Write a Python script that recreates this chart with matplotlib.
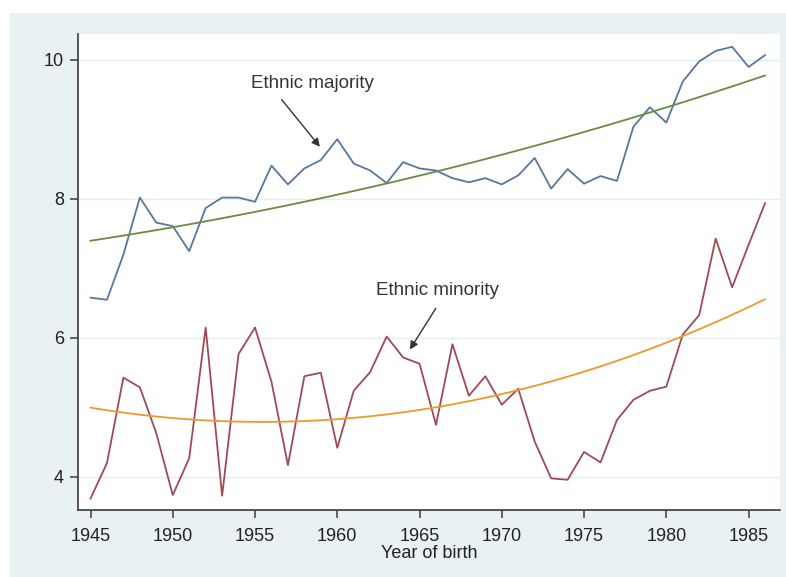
"""Years of schooling by year of birth, ethnic majority vs minority, with quadratic fits."""

import matplotlib.pyplot as plt
import numpy as np
from matplotlib.patches import Rectangle

plt.switch_backend("Agg")
plt.rcParams["font.family"] = ["Liberation Sans", "DejaVu Sans"]

years = np.arange(1945, 1987)

majority = [
    6.58, 6.55, 7.20, 8.02, 7.66, 7.61, 7.25, 7.87, 8.02, 8.02,
    7.96, 8.48, 8.21, 8.44, 8.56, 8.86, 8.51, 8.41, 8.23, 8.53,
    8.44, 8.41, 8.30, 8.24, 8.30, 8.21, 8.34, 8.59, 8.15, 8.43,
    8.22, 8.33, 8.26, 9.04, 9.32, 9.10, 9.69, 9.98, 10.13, 10.19,
    9.90, 10.07,
]
minority = [
    3.69, 4.20, 5.43, 5.29, 4.63, 3.74, 4.27, 6.15, 3.73, 5.77,
    6.15, 5.37, 4.17, 5.45, 5.50, 4.42, 5.24, 5.51, 6.02, 5.72,
    5.63, 4.75, 5.91, 5.17, 5.45, 5.04, 5.27, 4.51, 3.98, 3.96,
    4.36, 4.21, 4.82, 5.11, 5.24, 5.30, 6.05, 6.33, 7.43, 6.73,
    7.34, 7.94,
]

y_ticks = [4, 6, 8, 10]
x_ticks = list(range(1945, 1990, 5))

navy = "#56789f"
maroon = "#a04a55"
green = "#6b8a45"
orange = "#ec9a2c"
bg = "#e9f1f3"

fig = plt.figure(figsize=(7.86, 5.77), dpi=100, facecolor="white")
fig.add_artist(Rectangle((10 / 786, 0), 1, (577 - 13) / 577,
                         transform=fig.transFigure, facecolor=bg,
                         edgecolor="none", zorder=-10))
ax = fig.add_axes([78 / 786, (577 - 510) / 577, 702 / 786, 476 / 577])
ax.set_facecolor("white")

# Stata-style qfit: quadratic least squares on each series
grid = np.linspace(years[0], years[-1], 100)
fit_maj = np.polyval(np.polyfit(years, majority, 2), grid)
fit_min = np.polyval(np.polyfit(years, minority, 2), grid)

ax.plot(years, majority, color=navy, lw=1.3)
ax.plot(grid, fit_maj, color=green, lw=1.3)
ax.plot(years, minority, color=maroon, lw=1.3)
ax.plot(grid, fit_min, color=orange, lw=1.3)

ax.set_xlim(1944.24, 1986.91)
ax.set_ylim(3.525, 10.374)
ax.set_xticks(x_ticks)
ax.set_yticks(y_ticks)
ax.grid(axis="y", color="#e4eef0", lw=1.0)
ax.set_axisbelow(True)

for side in ("top", "right"):
    ax.spines[side].set_visible(False)
for side in ("left", "bottom"):
    ax.spines[side].set_color("#3a3a3a")
    ax.spines[side].set_linewidth(1.2)
ax.tick_params(direction="out", length=6, width=1.1, color="#3a3a3a",
               labelsize=13, labelcolor="#222222")
ax.tick_params(axis="x", pad=7)
ax.tick_params(axis="y", pad=4)

ax.set_xlabel("Year of birth", fontsize=13, color="#222222")
ax.xaxis.set_label_coords(0.5, -0.074)

arrow = dict(arrowstyle="-|>", color="#333333", lw=1.0, mutation_scale=12)
ax.annotate("Ethnic majority", xy=(1959.05, 8.72), xytext=(1954.75, 9.66),
            fontsize=13.5, color="#333333", ha="left", va="center")
ax.annotate("", xy=(1959.05, 8.72), xytext=(1956.52, 9.46), arrowprops=arrow)
ax.annotate("Ethnic minority", xy=(1964.32, 5.80), xytext=(1962.36, 6.69),
            fontsize=13.5, color="#333333", ha="left", va="center")
ax.annotate("", xy=(1964.32, 5.80), xytext=(1966.08, 6.46), arrowprops=arrow)

fig.savefig("out.png", dpi=100, facecolor=fig.get_facecolor())
